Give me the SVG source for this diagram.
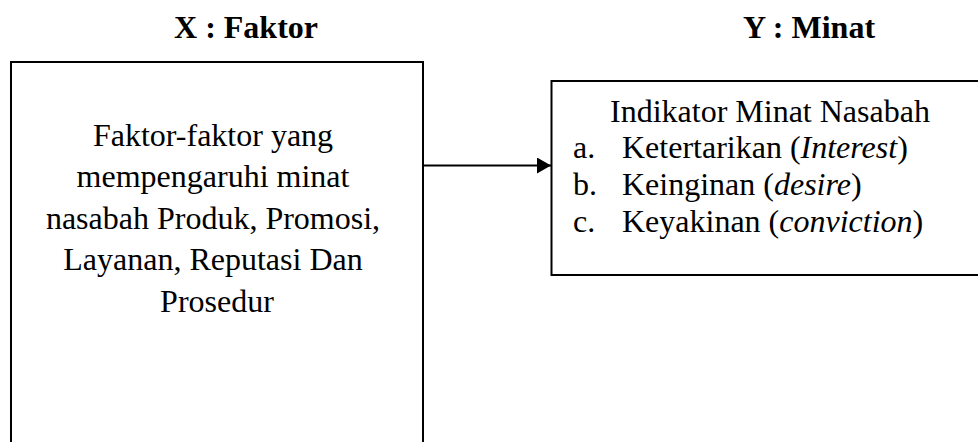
<svg xmlns="http://www.w3.org/2000/svg" width="978" height="442" viewBox="0 0 978 442">
<defs>
<style>
.t{font-family:"Liberation Serif","Times New Roman",serif;font-size:32px;fill:#000}
.b{font-weight:bold}
.box{fill:#fff;stroke:#000;stroke-width:2}
.edge{stroke:#000;stroke-width:2;fill:none}
</style>
<marker id="ah" markerWidth="14" markerHeight="16" refX="14" refY="8" orient="auto" markerUnits="userSpaceOnUse">
<path d="M0,0 L14,8 L0,16 Z" fill="#000"/>
</marker>
</defs>
<rect width="978" height="442" fill="#fff"/>
<text class="t b" x="246" y="38" text-anchor="middle">X : Faktor</text>
<text class="t b" x="809" y="38" text-anchor="middle">Y : Minat</text>
<g id="nodeX">
<rect class="box" x="11" y="62" width="412" height="400"/>
<text class="t" text-anchor="middle">
<tspan x="217" y="146">Faktor-faktor yang</tspan>
<tspan x="217" y="187">mempengaruhi minat</tspan>
<tspan x="217" y="229">nasabah Produk, Promosi,</tspan>
<tspan x="217" y="270">Layanan, Reputasi Dan</tspan>
<tspan x="217" y="312">Prosedur</tspan>
</text>
</g>
<g id="nodeY">
<rect class="box" x="551.5" y="81" width="440" height="194"/>
<text class="t" x="610" y="122">Indikator Minat Nasabah</text>
<text class="t" x="573" y="158">a.</text>
<text class="t" x="622" y="158">Ketertarikan (<tspan font-style="italic">Interest</tspan>)</text>
<text class="t" x="573" y="195">b.</text>
<text class="t" x="622" y="195">Keinginan (<tspan font-style="italic">desire</tspan>)</text>
<text class="t" x="573" y="232">c.</text>
<text class="t" x="622" y="232">Keyakinan (<tspan font-style="italic">conviction</tspan>)</text>
</g>
<g id="connectors">
<line class="edge" x1="423" y1="165.5" x2="551" y2="165.5" marker-end="url(#ah)"/>
</g>
</svg>
